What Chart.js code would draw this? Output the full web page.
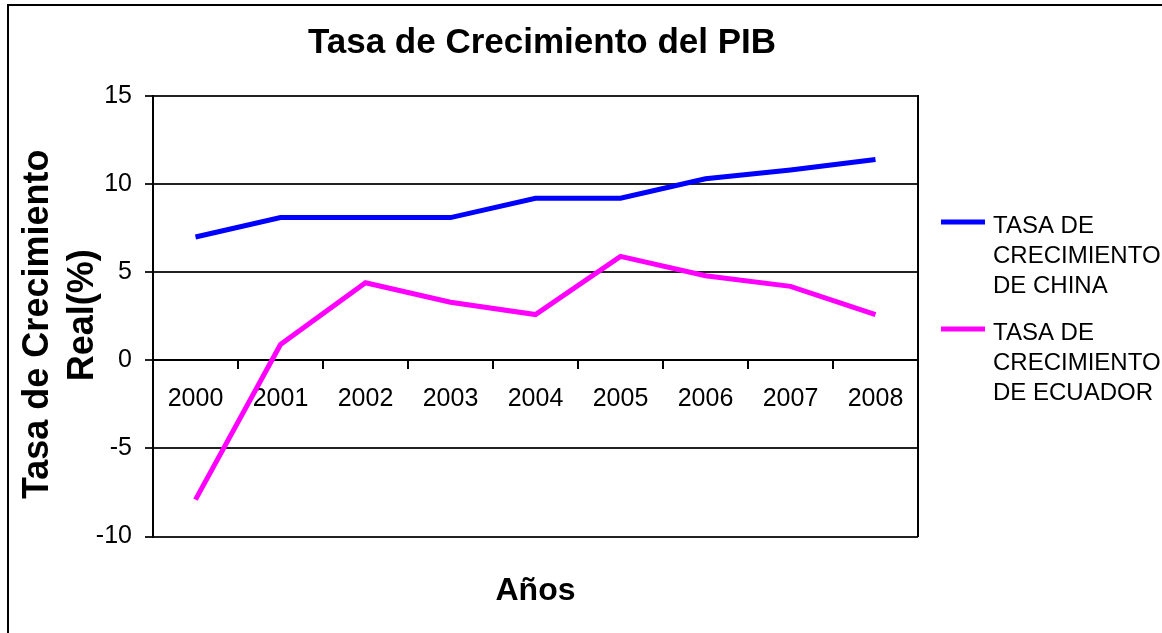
<!DOCTYPE html>
<html>
<head>
<meta charset="utf-8">
<script src="https://cdn.jsdelivr.net/npm/chart.js@4.4.1/dist/chart.umd.min.js"></script>
<style>
  html, body { margin: 0; padding: 0; background: #fff; }
  #wrap { width: 1162px; height: 633px; position: relative; }
</style>
</head>
<body>
<div id="wrap"><canvas id="chart" width="1162" height="633"></canvas></div>
<script>
// datos
const years = ['2000', '2001', '2002', '2003', '2004', '2005', '2006', '2007', '2008'];
const china = [7.0, 8.1, 8.1, 8.1, 9.2, 9.2, 10.3, 10.8, 11.4];
const ecuador = [-7.9, 0.9, 4.4, 3.3, 2.6, 5.9, 4.8, 4.2, 2.6];
const seriesNames = ['TASA DE CRECIMIENTO DE CHINA', 'TASA DE CRECIMIENTO DE ECUADOR'];
const legendLines = [['TASA DE', 'CRECIMIENTO', 'DE CHINA'], ['TASA DE', 'CRECIMIENTO', 'DE ECUADOR']];
const yMin = -10, yMax = 15, yStep = 5;
const chartTitle = 'Tasa de Crecimiento del PIB';
const xTitle = 'Años';
const yTitleLines = ['Tasa de Crecimiento', 'Real(%)'];

const FONT = '"Liberation Sans", Arial, sans-serif';
Chart.defaults.font.family = FONT;
Chart.defaults.color = '#000';

// marco exterior (solo lados izquierdo y superior son visibles)
const framePlugin = {
  id: 'frame',
  beforeDraw(chart) {
    const ctx = chart.ctx;
    ctx.save();
    ctx.fillStyle = '#000';
    ctx.fillRect(7, 4, 2, chart.height);
    ctx.fillRect(7, 4, chart.width, 2);
    ctx.restore();
  }
};

// titulo del eje Y en dos lineas
const yTitlePlugin = {
  id: 'yTitle',
  afterDraw(chart) {
    const { ctx, chartArea } = chart;
    const mid = (chartArea.top + chartArea.bottom) / 2;
    const shift = [8, -1];
    ctx.save();
    ctx.font = 'bold 36px ' + FONT;
    ctx.fillStyle = '#000';
    ctx.textAlign = 'center';
    ctx.textBaseline = 'alphabetic';
    yTitleLines.forEach((t, i) => {
      ctx.save();
      ctx.translate(48 + i * 45, mid + shift[i]);
      ctx.rotate(-Math.PI / 2);
      ctx.fillText(t, 0, 0);
      ctx.restore();
    });
    ctx.restore();
  }
};

// leyenda con texto en varias lineas
const legendPlugin = {
  id: 'wrapLegend',
  afterDraw(chart) {
    const { ctx, chartArea } = chart;
    ctx.save();
    ctx.font = '24px ' + FONT;
    ctx.fillStyle = '#000';
    ctx.textAlign = 'left';
    ctx.textBaseline = 'alphabetic';
    chart.data.datasets.forEach((ds, i) => {
      const base = 233 + i * 107;
      ctx.strokeStyle = ds.borderColor;
      ctx.lineWidth = 5;
      ctx.beginPath();
      ctx.moveTo(chartArea.right + 23, base - 11);
      ctx.lineTo(chartArea.right + 67, base - 11);
      ctx.stroke();
      legendLines[i].forEach((t, k) => ctx.fillText(t, chartArea.right + 75, base + k * 30));
    });
    ctx.restore();
  }
};

new Chart(document.getElementById('chart'), {
  type: 'line',
  data: {
    labels: years,
    datasets: [
      { label: seriesNames[0], data: china, borderColor: '#0000ff', backgroundColor: '#0000ff',
        borderWidth: 5, pointRadius: 0, tension: 0, borderCapStyle: 'butt' },
      { label: seriesNames[1], data: ecuador, borderColor: '#ff00ff', backgroundColor: '#ff00ff',
        borderWidth: 5, pointRadius: 0, tension: 0, borderCapStyle: 'butt' }
    ]
  },
  options: {
    responsive: false,
    animation: false,
    layout: { padding: { left: 0, right: 78, top: 0, bottom: 0 } },
    plugins: {
      legend: { display: false },
      tooltip: { enabled: false },
      title: {
        display: true, text: chartTitle, color: '#000',
        font: { size: 35, weight: 'bold' }, padding: { top: 22, bottom: 32 }
      },
      subtitle: {
        display: true, text: xTitle, position: 'bottom', fullSize: false, color: '#000',
        font: { size: 32, weight: 'bold' }, padding: { top: 35, bottom: 23 }
      }
    },
    scales: {
      x: {
        position: { y: 0 },
        offset: true,
        grid: { display: true, drawOnChartArea: false, drawTicks: true, tickLength: 8,
                color: '#000', lineWidth: 2, offset: true },
        border: { display: true, color: '#000', width: 2 },
        ticks: { font: { size: 25 }, color: '#000', padding: 16, maxRotation: 0, autoSkip: false }
      },
      y: {
        position: 'left',
        min: yMin, max: yMax,
        afterFit(scale) { scale.width = 153; },
        grid: { color: '#222', lineWidth: 2, tickLength: 8 },
        border: { display: true, color: '#000', width: 2 },
        ticks: { stepSize: yStep, font: { size: 25 }, color: '#000', padding: 13 }
      },
      y2: {
        position: 'right',
        min: yMin, max: yMax,
        afterFit(scale) { scale.width = 1162 - 78 - 918; },
        grid: { display: false },
        border: { display: true, color: '#000', width: 2 },
        ticks: { display: false }
      }
    }
  },
  plugins: [framePlugin, yTitlePlugin, legendPlugin]
});
</script>
</body>
</html>
